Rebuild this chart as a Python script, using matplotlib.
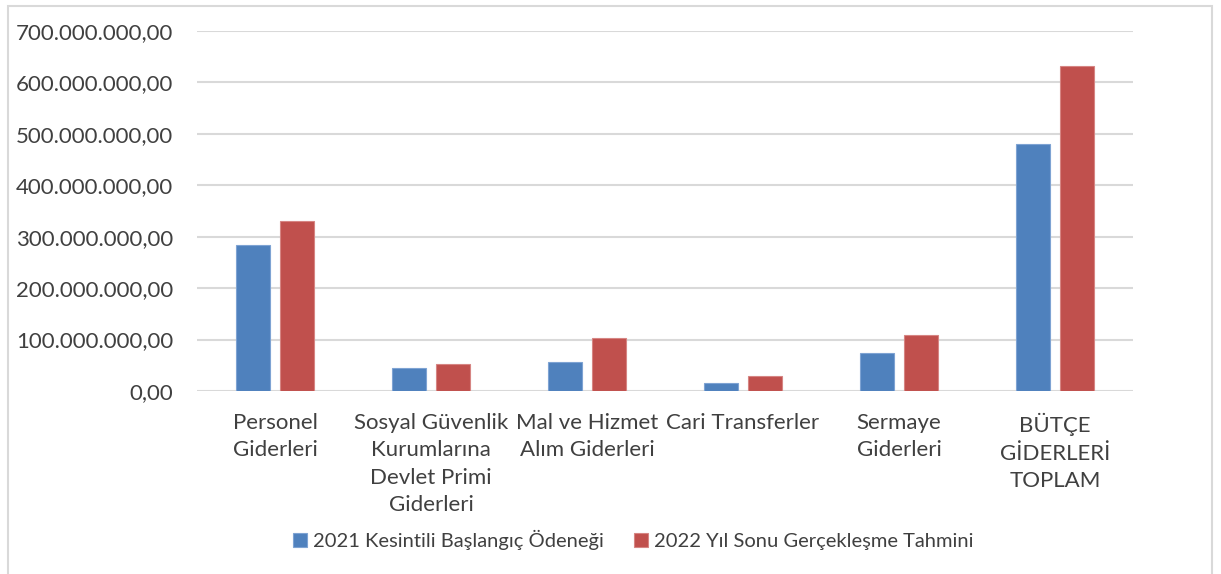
import numpy as np
import matplotlib.pyplot as plt
from matplotlib.patches import Rectangle
from matplotlib.ticker import FuncFormatter

categories = [
    "Personel\nGiderleri",
    "Sosyal Güvenlik\nKurumlarına\nDevlet Primi\nGiderleri",
    "Mal ve Hizmet\nAlım Giderleri",
    "Cari Transferler",
    "Sermaye\nGiderleri",
    "BÜTÇE\nGİDERLERİ\nTOPLAM",
]
series_names = ["2021 Kesintili Başlangıç Ödeneği", "2022 Yıl Sonu Gerçekleşme Tahmini"]
values_2021 = [284e6, 45e6, 57e6, 16e6, 74e6, 481e6]
values_2022 = [330e6, 53e6, 103e6, 30e6, 108e6, 631e6]

blue = "#4f81bd"
red = "#c0504d"
text_color = "#404040"
grid_color = "#d9d9d9"

plt.rcParams['font.family'] = ['Lato', 'DejaVu Sans']


def tr_format(v, pos):
    s = f"{v:,.2f}"
    return s.replace(",", "X").replace(".", ",").replace("X", ".")


fig = plt.figure(figsize=(12.21, 5.74), dpi=100)
ax = fig.add_axes([197 / 1221, 1 - 391 / 574, (1133 - 197) / 1221, 360 / 574])

x = np.arange(len(categories))
width = 0.22
ax.bar(x - 0.142, values_2021, width, color=blue, edgecolor="#7ea3d3", linewidth=0.8,
       label=series_names[0], zorder=3)
ax.bar(x + 0.142, values_2022, width, color=red, edgecolor="#d68583", linewidth=0.8,
       label=series_names[1], zorder=3)

ax.set_xlim(-0.5, len(categories) - 0.5)
ax.set_ylim(0, 700e6)
ax.set_yticks(np.arange(0, 700e6 + 1, 100e6))
ax.yaxis.set_major_formatter(FuncFormatter(tr_format))
ax.grid(axis="y", color=grid_color, linewidth=1.5, zorder=0)
ax.set_axisbelow(True)
for s in ax.spines.values():
    s.set_visible(False)

ax.set_xticks(x)
ax.set_xticklabels(categories, multialignment="center", linespacing=1.45)
ax.tick_params(axis="y", length=0, pad=17, labelsize=16, labelcolor=text_color)
ax.tick_params(axis="x", length=0, pad=16, labelsize=16, labelcolor=text_color)

fig.legend(loc="center", bbox_to_anchor=(633 / 1221, 1 - 540 / 574), ncol=2,
           frameon=False, fontsize=14.5, handlelength=0.7, handleheight=0.7,
           handletextpad=0.3, columnspacing=1.5, labelcolor=text_color)

fig.patches.append(Rectangle((8 / 1221, -0.05), 1204 / 1221, 1.05 - 6 / 574,
                             transform=fig.transFigure, fill=False,
                             edgecolor=grid_color, linewidth=1.5))

fig.savefig("out.png", dpi=100)
